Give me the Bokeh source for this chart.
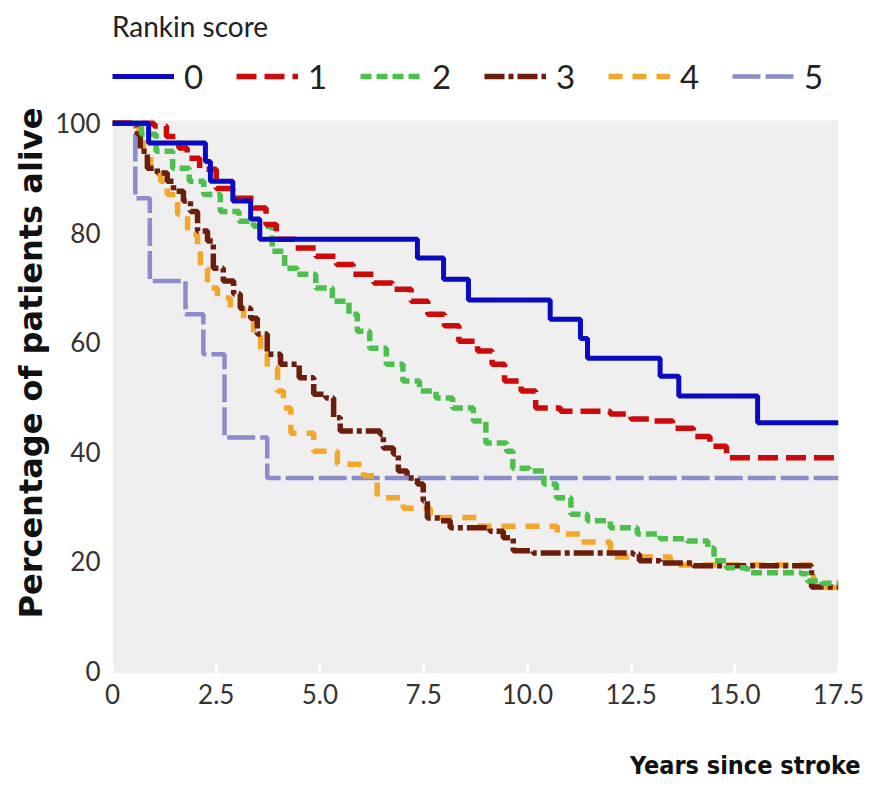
import numpy as np
from bokeh.plotting import figure
from bokeh.models import Range1d, FixedTicker, Legend, LegendItem, Title, BoxAnnotation
from bokeh.embed import file_html
from bokeh.resources import INLINE

# ---- data ----
t0 = [0, 0.87, 2.24, 2.36, 2.9, 3.33, 3.55, 7.35, 7.98, 8.58, 10.55, 11.28, 11.45, 13.2, 13.65, 15.55, 17.5]
s0 = [100, 96.4, 93.0, 89.4, 85.8, 82.5, 78.8, 75.4, 71.5, 67.7, 64.2, 60.7, 57.1, 53.8, 50.2, 45.3, 45.3]

t1 = [0, 1.0, 1.3, 1.6, 1.8, 2.1, 2.5, 2.9, 3.4, 3.7, 3.95, 4.4, 4.9, 5.4, 5.8, 6.3, 6.75, 7.2, 7.6, 8.0,
      8.35, 8.8, 9.15, 9.45, 9.85, 10.2, 10.8, 12.0, 12.5, 13.0, 13.5, 14.0, 14.4, 14.8, 17.5]
s1 = [100, 99.5, 97.6, 95.5, 93.6, 91.6, 88.1, 86.3, 84.5, 81.5, 78.8, 77.2, 75.7, 74.2, 72.4, 70.8, 69.7, 67.5, 65.1, 63.0,
      60.2, 58.4, 56.0, 52.9, 51.1, 48.0, 47.4, 46.9, 46.0, 45.6, 44.3, 42.8, 41.0, 38.9, 38.9]

t2 = [0, 0.7, 1.05, 1.45, 1.85, 2.2, 2.6, 3.05, 3.4, 3.85, 4.15, 4.45, 4.9, 5.3, 5.7, 5.9, 6.2, 6.6, 7.0, 7.4,
      7.8, 8.2, 8.7, 9.0, 9.5, 9.65, 10.05, 10.4, 10.7, 11.05, 11.45, 12.0, 12.65, 13.2, 13.85, 14.35, 14.5, 14.8,
      15.3, 16.6, 16.75, 17.1, 17.5]
s2 = [100, 98.0, 94.9, 91.8, 89.4, 87.0, 83.9, 82.1, 81.2, 76.6, 73.5, 72.4, 69.9, 67.5, 65.1, 62.0, 58.9, 56.0, 52.9, 51.1,
      49.8, 48.0, 45.6, 41.6, 40.1, 37.0, 36.5, 34.1, 31.6, 28.6, 27.4, 26.1, 25.0, 24.1, 23.7, 22.4, 20.1, 18.8,
      17.9, 17.7, 16.4, 16.0, 16.0]

t3 = [0, 0.6, 0.67, 0.84, 1.08, 1.32, 1.47, 1.71, 1.88, 2.05, 2.29, 2.43, 2.67, 2.92, 3.08, 3.33, 3.49, 3.73, 4.05,
      4.5, 4.85, 5.15, 5.33, 5.49, 6.45, 6.53, 6.77, 6.89, 7.1, 7.35, 7.49, 7.59, 7.9, 8.14, 9.1, 9.42, 9.66, 10.14,
      12.55, 12.7, 13.2, 14.0, 16.85, 17.5]
s3 = [100, 98.0, 94.9, 91.8, 90.9, 89.4, 87.6, 85.8, 83.9, 80.3, 78.5, 73.5, 71.2, 68.8, 66.2, 64.4, 61.5, 57.8, 56.0,
      53.5, 50.5, 49.8, 46.2, 43.8, 43.2, 40.7, 39.6, 36.5, 35.2, 34.1, 31.0, 27.9, 27.4, 26.1, 25.5, 24.3, 21.9, 21.5,
      21.3, 20.1, 19.7, 19.2, 15.3, 15.3]

t4 = [0, 0.63, 0.75, 0.92, 1.16, 1.32, 1.57, 1.81, 2.05, 2.12, 2.29, 2.53, 2.84, 3.16, 3.4, 3.57, 3.73, 3.98, 4.12,
      4.3, 4.85, 5.42, 6.05, 6.38, 7.01, 7.66, 8.87, 10.72, 11.3, 12.0, 13.45, 16.9, 17.5]
s4 = [100, 97.3, 94.9, 91.8, 89.4, 87.0, 83.4, 79.7, 77.2, 73.5, 69.9, 68.1, 66.2, 64.4, 61.5, 57.8, 55.3, 51.1, 48.0,
      43.4, 40.1, 37.7, 35.6, 31.6, 29.7, 28.0, 26.4, 25.0, 23.5, 20.8, 19.3, 15.2, 15.2]

t5 = [0, 0.55, 0.9, 1.76, 2.19, 2.7, 3.73, 17.5]
s5 = [100, 86.3, 71.2, 65.1, 57.8, 42.6, 35.2, 35.2]

scores = ["0", "1", "2", "3", "4", "5"]
colors = ["#0a0ac0", "#cc0a0a", "#4cc04c", "#6b1e0c", "#f2a72a", "#8c8cca"]
dashes = ["solid", "20 8", "11 5", "20 4 5 4", "14 10", "28 5"]
widths = [5, 5.5, 5.5, 5.5, 5.5, 4.5]

x_ticks = [0, 2.5, 5.0, 7.5, 10.0, 12.5, 15.0, 17.5]
x_tick_labels = ["0", "2.5", "5.0", "7.5", "10.0", "12.5", "15.0", "17.5"]
y_ticks = [0, 20, 40, 60, 80, 100]
grid_ticks = [20, 40, 60, 80]

series_t = [t0, t1, t2, t3, t4, t5]
series_s = [s0, s1, s2, s3, s4, s5]

FONT = "Lato"

X0, X1 = 0, 17.5
Y0, Y1 = -0.5, 100.5
DATA_H = 553          # px height of the grey data area
TOP_EXTRA = 120       # px of legend room above the data area
px_per_unit = DATA_H / (Y1 - Y0)
Y_TOP = Y1 + TOP_EXTRA / px_per_unit
FRAME_H = DATA_H + TOP_EXTRA

p = figure(frame_width=726, frame_height=FRAME_H, output_backend="svg",
           toolbar_location=None,
           x_range=Range1d(X0, X1), y_range=Range1d(Y0, Y_TOP),
           min_border_left=112, min_border_right=34, min_border_top=0, min_border_bottom=120)
p.background_fill_color = "white"
p.border_fill_color = "white"
p.outline_line_color = None

bg = BoxAnnotation(left=X0, right=X1, bottom=Y0, top=Y1, fill_color="#efefef", fill_alpha=1,
                   line_color=None, level="underlay")
p.add_layout(bg)

p.xgrid.grid_line_color = None
p.ygrid.ticker = FixedTicker(ticks=grid_ticks)
p.ygrid.grid_line_color = "white"
p.ygrid.grid_line_width = 4

p.xaxis.ticker = FixedTicker(ticks=x_ticks)
p.xaxis.major_label_overrides = {t: l for t, l in zip(x_ticks, x_tick_labels)}
p.yaxis.ticker = FixedTicker(ticks=y_ticks)
for ax in (p.xaxis, p.yaxis):
    ax.axis_line_color = None
    ax.minor_tick_line_color = None
    ax.major_label_text_font = FONT
    ax.major_label_text_font_size = "26px"
    ax.major_label_text_color = "#333333"
p.yaxis.major_tick_line_color = None
p.yaxis.major_label_standoff = 6
p.xaxis.major_tick_line_color = "white"
p.xaxis.major_tick_line_width = 3
p.xaxis.major_tick_in = 10
p.xaxis.major_tick_out = 0
p.xaxis.major_label_standoff = 10

renderers = {}
for i in [5, 4, 3, 2, 1, 0]:
    r = p.step(series_t[i], series_s[i], mode="after", line_color=colors[i],
               line_width=widths[i], line_dash=dashes[i])
    renderers[i] = r

items = [LegendItem(label=scores[i], renderers=[renderers[i]]) for i in range(6)]
LEG_H = 88
legend = Legend(items=items, orientation="horizontal", title="Rankin score",
                location=(0, FRAME_H - 8 - LEG_H))
legend.title_text_font = FONT
legend.title_text_font_size = "28px"
legend.title_text_font_style = "normal"
legend.title_text_color = "#222222"
legend.title_standoff = 13
legend.label_text_font = FONT
legend.label_text_font_size = "33px"
legend.label_text_color = "#222222"
legend.glyph_width = 62
legend.glyph_height = 28
legend.label_standoff = 10
legend.spacing = 32
legend.padding = 0
legend.margin = 0
legend.border_line_color = None
legend.background_fill_alpha = 0
p.add_layout(legend)

ylab = Title(text="Percentage of patients alive", align="left", offset=55,
             text_font="DejaVu Sans", text_font_style="bold", text_font_size="32px",
             text_color="#111111", standoff=6)
p.add_layout(ylab, "left")
xlab = Title(text="Years since stroke", align="right", offset=-22,
             text_font="DejaVu Sans Condensed", text_font_style="bold", text_font_size="25px",
             text_color="#111111", standoff=85)
p.add_layout(xlab, "below")

open("out.html", "w").write(file_html(p, INLINE))
